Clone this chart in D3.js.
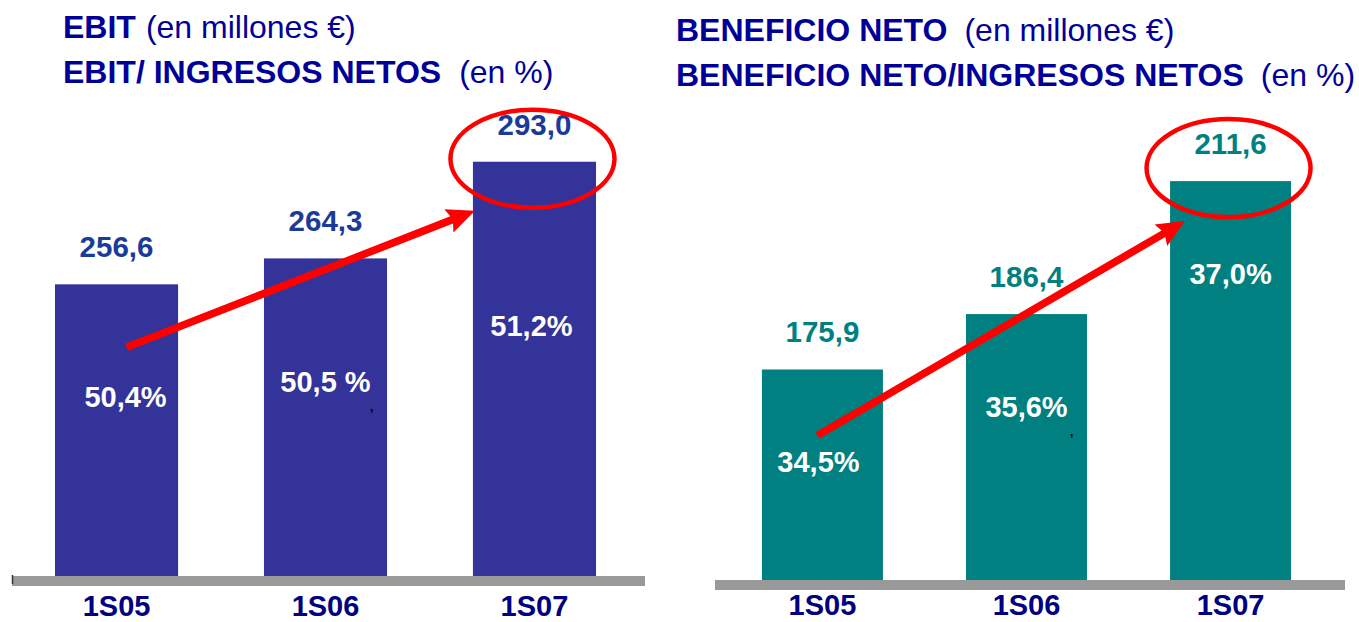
<!DOCTYPE html>
<html>
<head>
<meta charset="utf-8">
<script src="https://cdn.jsdelivr.net/npm/d3@7"></script>
<style>
  html, body { margin: 0; padding: 0; background: #ffffff; }
  svg { display: block; font-family: "Liberation Sans", Arial, sans-serif; }
</style>
</head>
<body>
<svg id="chart" width="1359" height="622"></svg>
<script>
// ---------- data ----------
const categories = ["1S05", "1S06", "1S07"];
const ebitValues = [256.6, 264.3, 293.0];
const ebitMargins = ["50,4%", "50,5 %", "51,2%"];
const netValues = [175.9, 186.4, 211.6];
const netMargins = ["34,5%", "35,6%", "37,0%"];
const leftTitleBold = ["EBIT", "EBIT/ INGRESOS NETOS"];
const leftTitleNormal = ["(en millones €)", "(en %)"];
const rightTitleBold = ["BENEFICIO NETO", "BENEFICIO NETO/INGRESOS NETOS"];
const rightTitleNormal = ["(en millones €)", "(en %)"];

// ---------- helpers ----------
const svg = d3.select("#chart");
const fmt = d3.formatLocale({ decimal: ",", thousands: ".", grouping: [3], currency: ["", "€"] }).format(".1f");

function arrowPath(x0, y0, x1, y1) {
  const dx = x1 - x0, dy = y1 - y0, L = Math.hypot(dx, dy);
  const ux = dx / L, uy = dy / L, nx = -uy, ny = ux;
  const sh = 3.8, hh = 12.5, hl = 25;
  const bx = x1 - ux * hl, by = y1 - uy * hl;
  const pts = [
    [x0 + nx * sh, y0 + ny * sh],
    [bx + nx * sh, by + ny * sh],
    [bx + nx * hh - ux * 3, by + ny * hh - uy * 3],
    [x1, y1],
    [bx - nx * hh - ux * 3, by - ny * hh - uy * 3],
    [bx - nx * sh, by - ny * sh],
    [x0 - nx * sh, y0 - ny * sh]
  ];
  return "M" + pts.map(p => p.join(",")).join("L") + "Z";
}

function drawPanel(cfg) {
  const g = svg.append("g");
  const x = d3.scaleBand().domain(categories).range(cfg.xRange)
    .paddingInner(cfg.padIn).paddingOuter(cfg.padOut);
  const y = d3.scaleLinear().domain(cfg.yDomain).range([cfg.base, cfg.yTop]);

  // titles
  cfg.titleBold.forEach((t, i) => {
    const tx = g.append("text")
      .attr("x", cfg.titleX).attr("y", cfg.titleY[i])
      .attr("fill", "#000099").attr("font-size", 32);
    tx.append("tspan").attr("font-weight", "bold").text(t);
    tx.append("tspan").attr("font-weight", "normal").attr("dx", cfg.titleGap[i]).text(cfg.titleNormal[i]);
  });

  // bars
  g.selectAll("rect.bar").data(cfg.values).join("rect")
    .attr("class", "bar")
    .attr("x", (d, i) => x(categories[i]))
    .attr("width", x.bandwidth())
    .attr("y", d => y(d))
    .attr("height", d => cfg.base - y(d))
    .attr("fill", cfg.barColor);

  // baseline (gray floor)
  const r = x.range();
  g.append("rect")
    .attr("x", r[0]).attr("width", r[1] - r[0] + cfg.floorExtra)
    .attr("y", cfg.base).attr("height", 10)
    .attr("fill", "#999999");
  if (cfg.tick) {
    g.append("line").attr("x1", r[0] + 0.5).attr("x2", r[0] + 0.5)
      .attr("y1", cfg.base - 1).attr("y2", cfg.base + 8)
      .attr("stroke", "#333333").attr("stroke-width", 1.5);
  }

  // category labels
  g.selectAll("text.cat").data(categories).join("text")
    .attr("class", "cat")
    .attr("x", d => x(d) + x.bandwidth() / 2)
    .attr("y", cfg.catY)
    .attr("text-anchor", "middle").attr("font-weight", "bold")
    .attr("font-size", 29).attr("fill", "#000080")
    .text(d => d);

  // value labels
  g.selectAll("text.val").data(cfg.values).join("text")
    .attr("class", "val")
    .attr("x", (d, i) => x(categories[i]) + x.bandwidth() / 2)
    .attr("y", d => y(d) - 27)
    .attr("text-anchor", "middle").attr("font-weight", "bold")
    .attr("font-size", 29.5).attr("fill", cfg.valColor)
    .text(d => fmt(d));

  // percentage labels inside bars
  const pctY = i => y(cfg.values[i]) + cfg.pctOffset + cfg.pctFrac * (cfg.base - y(cfg.values[i]));
  g.selectAll("text.pct").data(cfg.margins).join("text")
    .attr("class", "pct")
    .attr("x", (d, i) => x(categories[i]) + x.bandwidth() / 2 + cfg.pctDx[i])
    .attr("y", (d, i) => pctY(i))
    .attr("text-anchor", "middle").attr("font-weight", "bold")
    .attr("font-size", 29).attr("fill", "#ffffff")
    .text(d => d);

  // stray comma mark under middle bar label
  g.append("text")
    .attr("x", x(categories[1]) + x.bandwidth() - 17)
    .attr("y", pctY(1) + 19)
    .attr("font-size", 12).attr("font-weight", "bold").attr("fill", "#000000")
    .text(",");

  // red arrow
  const x0 = x(categories[0]) + x.bandwidth() / 2 + cfg.arrowTailDx;
  const y0 = y(cfg.values[0]) + cfg.arrowTailDy;
  const x1 = x(categories[2]) + cfg.arrowTipDx;
  const y1 = y(cfg.values[2]) + cfg.arrowTipDy;
  g.append("path").attr("d", arrowPath(x0, y0, x1, y1)).attr("fill", "#ff0000");

  // red ellipse around last value
  g.append("ellipse")
    .attr("cx", x(categories[2]) + x.bandwidth() / 2 - 2)
    .attr("cy", y(cfg.values[2]) + cfg.ellDy)
    .attr("rx", 82).attr("ry", 49)
    .attr("fill", "none").attr("stroke", "#ff0000").attr("stroke-width", 4.5);
}

drawPanel({
  values: ebitValues, margins: ebitMargins,
  titleBold: leftTitleBold, titleNormal: leftTitleNormal,
  titleX: 63, titleY: [38, 83], titleGap: [10, 18],
  xRange: [12, 639], padIn: 0.411, padOut: 0.2057,
  yDomain: [170, 295], base: 576, yTop: 155,
  barColor: "#333399", valColor: "#1a3c98",
  floorExtra: 6, tick: true, catY: 616,
  pctDx: [9, 0, -3], pctOffset: 0, pctFrac: 0.42,
  arrowTailDx: 10, arrowTailDy: 63, arrowTipDx: 2, arrowTipDy: 49,
  ellDy: -3
});

drawPanel({
  values: netValues, margins: netMargins,
  titleBold: rightTitleBold, titleNormal: rightTitleNormal,
  titleX: 676, titleY: [41, 86], titleGap: [17, 17],
  xRange: [715, 1338], padIn: 0.407, padOut: 0.23,
  yDomain: [136, 212], base: 580, yTop: 179,
  barColor: "#008080", valColor: "#008080",
  floorExtra: 7, tick: false, catY: 615,
  pctDx: [-4, 0, 0], pctOffset: 103, pctFrac: 0,
  arrowTailDx: -5, arrowTailDy: 66, arrowTipDx: 15, arrowTipDy: 40,
  ellDy: -13
});
</script>
</body>
</html>
